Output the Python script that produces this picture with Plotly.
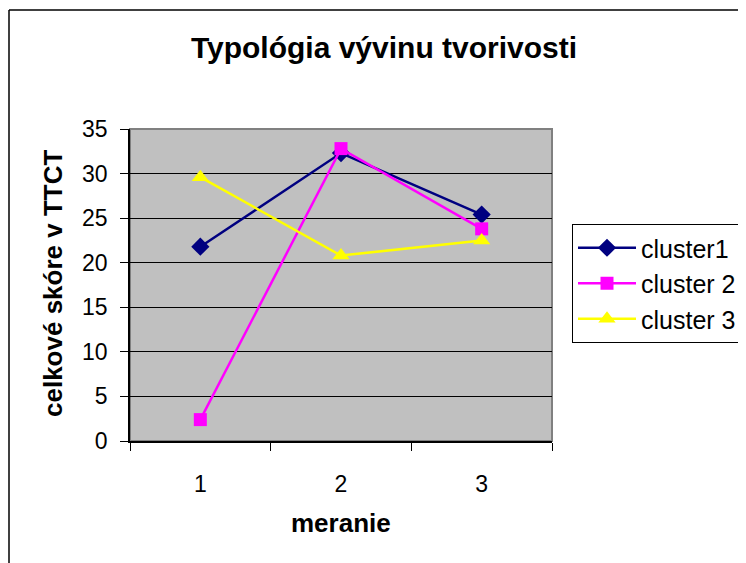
import plotly.graph_objects as go

# ---- data ----
categories = ["1", "2", "3"]
cluster1 = [21.8, 32.3, 25.4]
cluster2 = [2.4, 32.8, 23.8]
cluster3 = [29.6, 20.8, 22.5]
series_names = ["cluster1", "cluster 2", "cluster 3"]
y_ticks = [0, 5, 10, 15, 20, 25, 30, 35]

FONT = "Arial, 'Liberation Sans', sans-serif"

# page body has an 8px margin; work in screen pixels and shift
OFF = 8
W, H = 746, 563
L, R, T, B = 130 - OFF, 552 - OFF, 129 - OFF, 441 - OFF
def px(x):
    return (x - OFF - L) / (R - L)
def py(y):
    return (B - (y - OFF)) / (B - T)

fig = go.Figure()
fig.add_trace(go.Scatter(
    x=categories, y=cluster1, name=series_names[0], mode="lines+markers",
    line=dict(color="#000080", width=2.5),
    marker=dict(symbol="diamond", size=14, color="#000080"),
    legendgroup="a"))
fig.add_trace(go.Scatter(
    x=categories, y=cluster2, name=series_names[1], mode="lines+markers",
    line=dict(color="#FF00FF", width=2.5),
    marker=dict(symbol="square", size=13, color="#FF00FF"),
    legendgroup="b"))
fig.add_trace(go.Scatter(
    x=categories, y=cluster3, name=series_names[2], mode="lines+markers",
    line=dict(color="#FFFF00", width=2.5),
    marker=dict(symbol="triangle-up", size=15, color="#FFFF00"),
    legendgroup="c"))

fig.update_layout(
    width=W, height=H,
    margin=dict(l=L, r=W - R, t=T, b=H - B, autoexpand=False),
    paper_bgcolor="white",
    plot_bgcolor="#C0C0C0",
    font=dict(family=FONT, color="black", size=20),
    title=dict(text="<b>Typológia vývinu tvorivosti</b>",
               font=dict(size=30, family=FONT, color="black"),
               xref="container", yref="container",
               x=(384 - OFF) / W, y=1 - (47 - OFF) / H,
               xanchor="center", yanchor="middle"),
    showlegend=True,
    legend=dict(x=px(572), y=py(224), xanchor="left", yanchor="top",
                xref="paper", yref="paper",
                bordercolor="black", borderwidth=1, bgcolor="white",
                font=dict(size=25, family=FONT, color="black"),
                tracegroupgap=6, traceorder="normal", itemwidth=58,
                entrywidth=175, entrywidthmode="pixels"),
    xaxis=dict(type="category", categoryorder="array", categoryarray=categories,
               range=[-0.5, len(categories) - 0.5],
               tickson="boundaries", ticks="outside", ticklen=8, tickwidth=1,
               tickcolor="black", showline=True, linecolor="black", linewidth=1.5,
               showgrid=False, zeroline=False, ticklabelstandoff=22,
               tickfont=dict(size=23, family=FONT, color="black")),
    yaxis=dict(range=[0, 35], tickvals=y_ticks, ticks="outside", ticklen=8,
               tickwidth=1, tickcolor="black", showline=True, linecolor="black",
               linewidth=1.5, showgrid=True, gridcolor="black", gridwidth=1,
               zeroline=False, ticklabelstandoff=8,
               tickfont=dict(size=23, family=FONT, color="black")),
    annotations=[
        dict(text="<b>celkové skóre v TTCT</b>", textangle=-90,
             xref="paper", yref="paper", x=px(53), y=py(284),
             xanchor="center", yanchor="middle", showarrow=False,
             font=dict(size=26, family=FONT, color="black")),
        dict(text="<b>meranie</b>",
             xref="paper", yref="paper", x=px(341), y=py(523),
             xanchor="center", yanchor="middle", showarrow=False,
             font=dict(size=26, family=FONT, color="black")),
    ],
    shapes=[
        # plot-area frame (top/right gray)
        dict(type="rect", xref="paper", yref="paper", x0=0, x1=1, y0=0, y1=1,
             line=dict(color="#808080", width=2), layer="below"),
        # outer chart border (left and top visible)
        dict(type="line", xref="paper", yref="paper", x0=px(9), x1=px(9),
             y0=py(10), y1=py(580), line=dict(color="black", width=1.5)),
        dict(type="line", xref="paper", yref="paper", x0=px(9), x1=px(780),
             y0=py(10), y1=py(10), line=dict(color="black", width=1.5)),
    ],
)

fig.write_html("out.html")
